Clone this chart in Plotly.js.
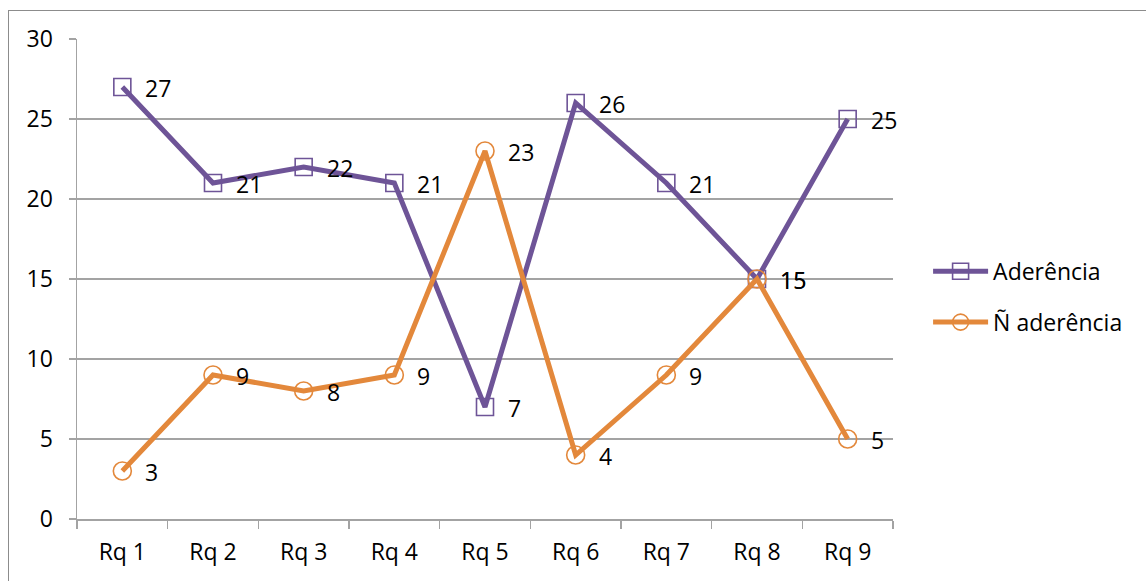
<!DOCTYPE html>
<html>
<head>
<meta charset="utf-8">
<script src="https://cdn.plot.ly/plotly-3.0.1.min.js"></script>
<style>
  html, body { margin: 0; padding: 0; background: #fff; }
  #wrap { position: relative; width: 1146px; height: 581px; }
  #chart { position: absolute; left: 0; top: 0; width: 1146px; height: 581px; }
  #frame { position: absolute; left: 8px; top: 10px; right: -2px; bottom: -2px;
           border-left: 1.5px solid #8c8c8c; border-top: 1.5px solid #8c8c8c; pointer-events: none; }
</style>
</head>
<body>
<div id="wrap">
  <div id="chart"></div>
  <div id="frame"></div>
</div>
<script>
const categories = ["Rq 1", "Rq 2", "Rq 3", "Rq 4", "Rq 5", "Rq 6", "Rq 7", "Rq 8", "Rq 9"];
const aderencia = [27, 21, 22, 21, 7, 26, 21, 15, 25];
const naoAderencia = [3, 9, 8, 9, 23, 4, 9, 15, 5];
const seriesNames = ["Aderência", "Ñ aderência"];

const purple = "#6E5497";
const orange = "#E3883B";
const grid = "#A3A3A3";
const fontFamily = "'Open Sans', 'Noto Sans', sans-serif";
const fs = 23;

const traces = [
  {
    x: categories, y: aderencia, name: seriesNames[0], type: "scatter", mode: "lines+markers",
    legendgroup: "a",
    line: { color: purple, width: 5 },
    marker: { symbol: "square-open", size: 17, color: purple, line: { color: purple, width: 1.6 } }
  },
  {
    x: categories, y: naoAderencia, name: seriesNames[1], type: "scatter", mode: "lines+markers",
    legendgroup: "b",
    line: { color: orange, width: 5 },
    marker: { symbol: "circle-open", size: 18, color: orange, line: { color: orange, width: 1.6 } }
  }
];

const annotations = [];
[aderencia, naoAderencia].forEach(vals => {
  vals.forEach((v, i) => {
    annotations.push({
      x: categories[i], y: v, xref: "x", yref: "y", text: String(v),
      showarrow: false, xanchor: "left", yanchor: "middle", xshift: 21, yshift: -1,
      font: { family: fontFamily, size: fs, color: "#000" }
    });
  });
});

const layout = {
  width: 1146, height: 581,
  margin: { l: 77, r: 253, t: 39, b: 62, pad: 0 },
  paper_bgcolor: "#fff", plot_bgcolor: "#fff",
  font: { family: fontFamily, size: fs, color: "#000" },
  showlegend: true,
  legend: {
    x: 1.043, y: 0.463, xanchor: "left", yanchor: "middle",
    font: { family: fontFamily, size: fs, color: "#000" },
    traceorder: "grouped", tracegroupgap: 18, itemwidth: 55,
    bgcolor: "rgba(0,0,0,0)"
  },
  xaxis: {
    type: "category", range: [-0.5, 8.5], tickson: "boundaries",
    showline: true, linecolor: grid, linewidth: 1.5,
    ticks: "outside", ticklen: 8, tickcolor: grid, tickwidth: 1.5,
    showgrid: false, zeroline: false, ticklabelstandoff: 12,
    tickfont: { family: fontFamily, size: fs, color: "#000" }
  },
  yaxis: {
    range: [0, 30], dtick: 5, tick0: 0,
    showline: true, linecolor: grid, linewidth: 1.5,
    ticks: "outside", ticklen: 7, tickcolor: grid, tickwidth: 1.5,
    showgrid: true, gridcolor: grid, gridwidth: 1.5, zeroline: false,
    ticklabelstandoff: 11,
    tickfont: { family: fontFamily, size: fs, color: "#000" }
  },
  annotations: annotations
};

Plotly.newPlot("chart", traces, layout, { staticPlot: true, displayModeBar: false });
</script>
</body>
</html>
